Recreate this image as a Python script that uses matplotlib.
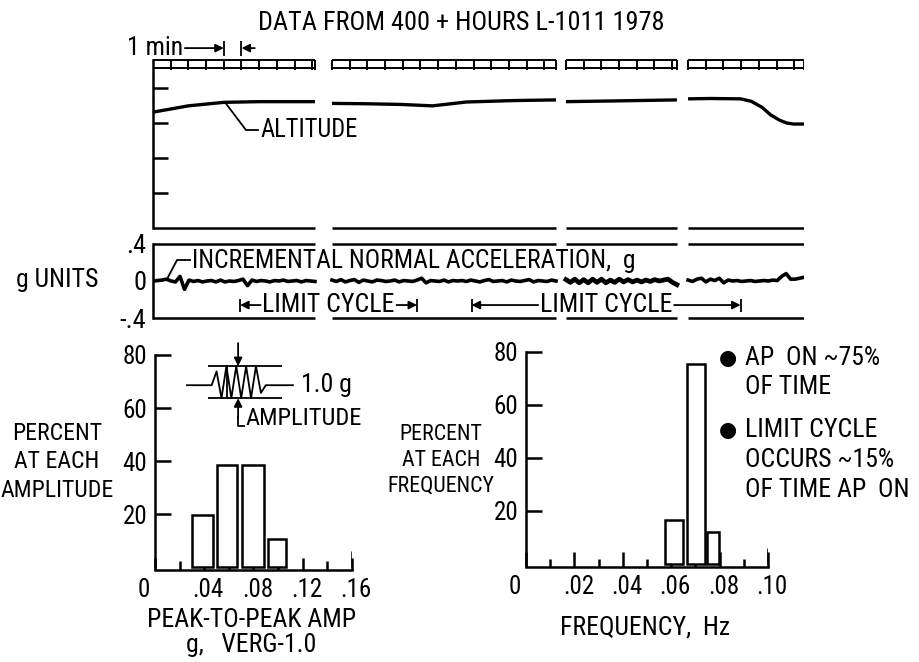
import numpy as np
import matplotlib
matplotlib.use('Agg')
import matplotlib.pyplot as plt
import matplotlib.transforms as mtransforms
from matplotlib import font_manager as fm

_avail = {f.name for f in fm.fontManager.ttflist}
FONT = 'Liberation Sans'
for _cand in ['Liberation Sans Narrow', 'Roboto Condensed', 'Open Sans Condensed',
              'DejaVu Sans Condensed', 'Noto Sans Condensed']:
    if _cand in _avail:
        FONT = _cand
        break
plt.rcParams['font.family'] = [FONT, 'DejaVu Sans']

W, H = 920, 662
fig = plt.figure(figsize=(9.2, 6.62), dpi=100)

# ------------------------------------------------------------------ data
segments = [(0.0, 9.15), (10.11, 22.77), (23.33, 29.6), (30.23, 36.78)]  # minutes

alt_t = [[0, 1, 2, 3, 4, 5, 6, 7, 8, 9.15],
         [10.11, 12, 14, 15.8, 17.7, 20.3, 22.77],
         [23.33, 26, 29.6],
         [30.23, 31.5, 33.2, 33.8, 34.4, 34.9, 35.4, 35.8, 36.2, 36.78]]
alt_v = [[3.31, 3.40, 3.49, 3.54, 3.59, 3.60, 3.61, 3.61, 3.61, 3.61],
         [3.56, 3.55, 3.53, 3.49, 3.60, 3.64, 3.66],
         [3.61, 3.63, 3.66],
         [3.69, 3.70, 3.69, 3.62, 3.45, 3.23, 3.08, 3.00, 2.97, 2.97]]
alt_ticks = [1, 2, 3, 4]

acc_seg1 = [0.00, 0.005, 0.01, 0.02, 0.00, -0.01, 0.05, -0.09, 0.01, -0.005, 0.005, -0.01,
            0.00, 0.005, -0.01, 0.01, -0.01, 0.00, -0.005, 0.005, 0.02, -0.05, 0.01, -0.005,
            0.005, 0.00, -0.01, 0.005, 0.00, 0.01, -0.005, 0.00, 0.005, -0.01, 0.005, 0.00, -0.005]
acc_seg2 = [0.01, -0.005, 0.015, -0.01, 0.005, 0.015, -0.015, 0.01, 0.00, -0.01, 0.01, 0.005,
            -0.005, 0.00, 0.01, -0.01, 0.005, 0.00, -0.005, 0.01, 0.03, -0.02, 0.005, 0.00,
            -0.005, 0.01, -0.01, 0.005, 0.00, 0.005, -0.005, 0.01, 0.00, -0.01, 0.005, 0.015,
            -0.005, 0.00, 0.005, -0.01, 0.01, 0.00, -0.005, 0.005, 0.015, -0.01, 0.005, 0.00,
            -0.005, 0.01, 0.00]
acc_seg3 = [0.015, -0.015, 0.02, -0.02, 0.015, -0.02, 0.02, -0.015, 0.02, -0.02, 0.01, -0.015,
            0.02, -0.01, 0.015, -0.01, 0.01, -0.01, 0.01, -0.005, 0.015, 0.00, 0.01, 0.02,
            -0.015, -0.04]
acc_seg4 = [0.01, -0.005, 0.02, 0.03, -0.01, 0.02, 0.005, 0.03, -0.02, 0.01, 0.00, 0.005,
            -0.005, 0.00, 0.005, -0.005, 0.00, 0.005, 0.00, 0.01, 0.005, 0.05, 0.08, 0.02,
            0.02, 0.03, 0.04]
acc_series = [acc_seg1, acc_seg2, acc_seg3, acc_seg4]
acc_ticks = [0.4, 0.0, -0.4]
acc_ticklabels = ['.4', '0', '-.4']
limit_cycles = [(4.92, 14.92), (18.0, 33.2)]   # minutes

amp_centers = [0.0385, 0.0585, 0.0796, 0.0992]
amp_widths = [0.017, 0.017, 0.018, 0.015]
amp_pct = [19.5, 38.5, 38.5, 10.5]
amp_major = [0, 0.04, 0.08, 0.12, 0.16]
amp_major_labels = ['0', '.04', '.08', '.12', '.16']
amp_minor = [0.02, 0.06, 0.10, 0.14]

freq_centers = [0.0612, 0.0702, 0.0773]
freq_widths = [0.0075, 0.0075, 0.005]
freq_pct = [16.5, 75.5, 12]
freq_major = [0, 0.02, 0.04, 0.06, 0.08, 0.10]
freq_major_labels = ['0', '.02', '.04', '.06', '.08', '.10']
freq_minor = [0.01, 0.03, 0.05, 0.07, 0.09]

pct_ticks = [20, 40, 60, 80]

# ------------------------------------------------------------------ helpers
LW = 1.8
K = 'black'
TICK_FS = 18
CAP = 18.5          # common label size (pt), shrunk only where space is limited
label_list = []     # (text, max width px or None)


def rect(x0, y0, x1, y1):
    return [x0 / W, 1 - y1 / H, (x1 - x0) / W, (y1 - y0) / H]


def ftext(x, y, s, maxw=None, size=CAP, ha='left', va='center', fit=True, **kw):
    t = fig.text(x / W, 1 - y / H, s, fontsize=size, ha=ha, va=va, color=K, **kw)
    if fit:
        label_list.append((t, maxw))
    return t


def clean(ax):
    for s in ('top', 'right', 'bottom'):
        ax.spines[s].set_visible(False)
    ax.spines['left'].set_linewidth(LW)
    ax.set_xticks([])
    ax.patch.set_visible(False)


ARW = dict(arrowstyle='-|>', color=K, lw=1.3, mutation_scale=12, shrinkA=0, shrinkB=0)

# ------------------------------------------------------------------ title
title = ftext(461, 23, 'DATA FROM 400 + HOURS L-1011 1978', ha='center', fit=False)

# ------------------------------------------------------------------ altitude panel
ax_alt = fig.add_axes(rect(153, 35, 804, 230))
ax_alt.set_xlim(0, 36.78)
ax_alt.set_ylim(-0.057, 5.514)
clean(ax_alt)
ax_alt.spines['left'].set_bounds(0, 4.8)
ax_alt.set_yticks(alt_ticks)
ax_alt.tick_params(axis='y', direction='in', length=10.8, width=LW, labelleft=False)

strip_lo, strip_hi = 4.57, 4.8
for (s, e) in segments:
    ax_alt.hlines([0], s, e, color=K, lw=LW)
    ax_alt.hlines([strip_lo, strip_hi], s, e, color=K, lw=1.4)
    divs = list(np.arange(s, e, 1.0)) + [e]
    ax_alt.vlines(divs, strip_lo - 0.05, strip_hi, color=K, lw=1.4)

for t, v in zip(alt_t, alt_v):
    ax_alt.plot(t, v, color=K, lw=2.4, solid_capstyle='butt')

ax_alt.plot([4.07, 5.25, 5.93], [3.59, 2.80, 2.80], color=K, lw=1.3)
label_list.append((ax_alt.text(6.05, 2.80, 'ALTITUDE', fontsize=CAP, va='center', ha='left'), 98))

label_list.append((ax_alt.text(1.7, 5.14, '1 min', fontsize=CAP, ha='right', va='center',
                               clip_on=False), None))
ax_alt.vlines([4.0, 5.0], 4.92, 5.33, color=K, lw=1.3, clip_on=False)
ax_alt.annotate('', xy=(4.0, 5.14), xytext=(1.8, 5.14), arrowprops=ARW)
ax_alt.annotate('', xy=(5.0, 5.14), xytext=(5.75, 5.14), arrowprops=ARW)

# ------------------------------------------------------------------ acceleration panel
ax_acc = fig.add_axes(rect(153, 240, 804, 321))
ax_acc.set_xlim(0, 36.78)
ax_acc.set_ylim(-0.4324, 0.4432)
clean(ax_acc)
ax_acc.spines['left'].set_bounds(-0.4, 0.4)
ax_acc.set_yticks(acc_ticks)
ax_acc.set_yticklabels(acc_ticklabels)
ax_acc.tick_params(axis='y', length=0, pad=5, labelsize=19)

for (s, e), vals in zip(segments, acc_series):
    ax_acc.hlines([0.4, -0.4], s, e, color=K, lw=LW)
    tt = np.linspace(s, e, len(vals))
    ax_acc.plot(tt, vals, color=K, lw=3.4 if vals is acc_seg3 else 2.6)

ax_acc.plot([0.85, 1.36, 2.09], [0.043, 0.227, 0.227], color=K, lw=1.3)
label_list.append((ax_acc.text(2.2, 0.215, 'INCREMENTAL NORMAL ACCELERATION,  g', fontsize=CAP,
                               va='center', ha='left'), 445))

lc_texts = []
for (a, b) in limit_cycles:
    ax_acc.vlines([a, b], -0.33, -0.19, color=K, lw=1.3)
    t = ax_acc.text((a + b) / 2, -0.26, 'LIMIT CYCLE', fontsize=CAP, ha='center', va='center')
    lc_texts.append(t)
    label_list.append((t, 134))

ftext(57, 280, 'g UNITS', ha='center')


# ------------------------------------------------------------------ histograms
def hist_axes(ax, major, labels, minor, xmax, maj_len, min_len):
    for s in ('top', 'right'):
        ax.spines[s].set_visible(False)
    ax.spines['left'].set_linewidth(LW)
    ax.spines['bottom'].set_linewidth(LW)
    ax.spines['left'].set_bounds(0, 80)
    ax.spines['bottom'].set_bounds(0, xmax)
    ax.set_yticks(pct_ticks)
    ax.set_yticklabels([str(v) for v in pct_ticks])
    ax.set_xticks(major)
    ax.set_xticklabels(labels)
    ax.set_xticks(minor, minor=True)
    ax.tick_params(axis='y', direction='in', length=11.5, width=LW, pad=5.5, labelsize=TICK_FS)
    ax.tick_params(axis='x', which='major', direction='in', length=maj_len, width=LW,
                   pad=6, labelsize=TICK_FS)
    ax.tick_params(axis='x', which='minor', direction='in', length=min_len, width=LW)
    ax.vlines([xmax], 0, 6, color=K, lw=LW)
    ax.patch.set_visible(False)
    # the "0" label sits a little left of the axis corner, other labels a little right
    for i, lab in enumerate(ax.get_xticklabels()):
        dx = -11 if i == 0 else 4
        lab.set_transform(lab.get_transform() +
                          mtransforms.ScaledTranslation(dx / 100, 0, fig.dpi_scale_trans))


ax_amp = fig.add_axes(rect(155, 340, 352, 570))
ax_amp.set_xlim(0, 0.16)
ax_amp.set_ylim(-1.13, 85.66)
hist_axes(ax_amp, amp_major, amp_major_labels, amp_minor, 0.16, 8.6, 6.5)
ax_amp.bar(amp_centers, amp_pct, width=amp_widths, facecolor='white', edgecolor=K,
           linewidth=LW, zorder=3)

# amplitude schematic (data units of the amplitude axes)
top_y, bot_y, mid_y = 75.8, 63.7, 68.6
ax_amp.hlines([top_y, bot_y], 0.043, 0.103, color=K, lw=1.3, clip_on=False)
zx = [0.026, 0.046, 0.050, 0.054, 0.058, 0.062, 0.066, 0.070, 0.074, 0.078, 0.082,
      0.086, 0.090, 0.112]
zy = [mid_y, mid_y, top_y - 2, bot_y, top_y, bot_y, top_y, bot_y, top_y, bot_y, top_y,
      bot_y + 2, mid_y, mid_y]
ax_amp.plot(zx, zy, color=K, lw=1.3, clip_on=False)
ax_amp.vlines([0.0585], bot_y, top_y, color=K, lw=1.3)
ax_amp.annotate('', xy=(0.0675, top_y), xytext=(0.0675, 84.5), arrowprops=ARW,
                annotation_clip=False)
ax_amp.annotate('', xy=(0.0675, bot_y), xytext=(0.0675, 56.0), arrowprops=ARW,
                annotation_clip=False)
ax_amp.plot([0.0675, 0.0675, 0.0725], [56.5, 53.2, 53.2], color=K, lw=1.3, clip_on=False)
label_list.append((ax_amp.text(0.1185, mid_y, '1.0 g', fontsize=CAP, va='center', ha='left',
                               clip_on=False), None))
label_list.append((ax_amp.text(0.0735, 56.0, 'AMPLITUDE', fontsize=CAP, va='center', ha='left',
                               clip_on=False), 117))

ftext(57, 462, 'PERCENT\nAT EACH\nAMPLITUDE', maxw=114, ha='center', linespacing=1.3)
ftext(252, 620, 'PEAK-TO-PEAK AMP', ha='center', maxw=212)
ftext(251, 645, 'g,   VERG-1.0', ha='center')

ax_frq = fig.add_axes(rect(526, 340, 768, 567))
ax_frq.set_xlim(0, 0.10)
ax_frq.set_ylim(-1.13, 84.5)
hist_axes(ax_frq, freq_major, freq_major_labels, freq_minor, 0.10, 10.8, 5.8)
ax_frq.bar(freq_centers, freq_pct, width=freq_widths, facecolor='white', edgecolor=K,
           linewidth=LW, zorder=3)

ftext(441, 460, 'PERCENT\nAT EACH\nFREQUENCY', maxw=108, ha='center', linespacing=1.3)
ftext(645, 628, 'FREQUENCY,  Hz', ha='center')

ftext(728, 358, '\u25cf', size=15, ha='center', family='DejaVu Sans', fit=False)
ftext(745, 358, 'AP  ON ~75%')
ftext(745, 387, 'OF TIME')
ftext(728, 430, '\u25cf', size=15, ha='center', family='DejaVu Sans', fit=False)
ftext(745, 430, 'LIMIT CYCLE')
ftext(745, 460, 'OCCURS ~15%')
ftext(745, 490, 'OF TIME AP  ON', maxw=168)

# ------------------------------------------------------------------ fit text sizes
fig.canvas.draw()
tw = title.get_window_extent().width
title.set_fontsize(title.get_fontsize() * 408 / tw)
for t, maxw in label_list:
    if maxw:
        w = t.get_window_extent().width
        if w > maxw:
            t.set_fontsize(t.get_fontsize() * maxw / w)
fig.canvas.draw()

inv = ax_acc.transData.inverted()
for (a, b), t in zip(limit_cycles, lc_texts):
    bb = t.get_window_extent()
    x0 = inv.transform((bb.x0, 0))[0]
    x1 = inv.transform((bb.x1, 0))[0]
    for src, dst in ((x0 - 0.1, a), (x1 + 0.1, b)):
        ax_acc.annotate('', xy=(dst, -0.26), xytext=(src, -0.26), arrowprops=ARW)

fig.savefig('out.png', dpi=100, facecolor='white')
